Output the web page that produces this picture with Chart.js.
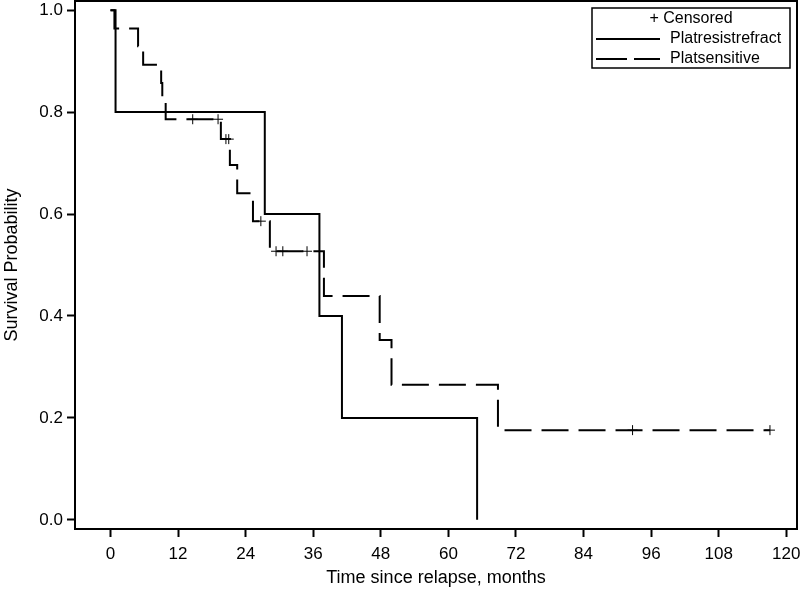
<!DOCTYPE html>
<html>
<head>
<meta charset="utf-8">
<script src="https://cdn.jsdelivr.net/npm/chart.js@4"></script>
<style>
  body { margin: 0; background: #fff; }
</style>
</head>
<body>
<canvas id="kmChart" width="800" height="595"></canvas>
<script>
// Platresistrefract: event times (months) and survival after each event
const resistTimes = [0, 0.9, 27.4, 37.1, 41.1, 65.1];
const resistSurv = [1.0, 0.8, 0.6, 0.4, 0.2, 0.0];

// Platsensitive
const sensTimes = [0, 0.7, 4.9, 5.8, 9.0, 9.2, 9.8, 19.6, 21.2, 22.5, 25.3, 28.3, 37.9, 47.8, 49.9, 68.8, 117.1];
const sensSurv = [1.0, 0.964, 0.929, 0.893, 0.857, 0.821, 0.786, 0.747, 0.696, 0.641, 0.586, 0.527, 0.439, 0.353, 0.265, 0.176, 0.176];

// censored observations (Platsensitive)
const censTimes = [14.6, 19.1, 20.5, 21.0, 26.7, 29.4, 30.6, 34.9, 92.7, 117.1];
const censSurv = [0.786, 0.786, 0.747, 0.747, 0.586, 0.527, 0.527, 0.527, 0.176, 0.176];

const xTicks = [0, 12, 24, 36, 48, 60, 72, 84, 96, 108, 120];
const yTicks = [0, 0.2, 0.4, 0.6, 0.8, 1.0];

const legendLabels = ['+ Censored', 'Platresistrefract', 'Platsensitive'];

function toPoints(xs, ys) {
    return xs.map((x, i) => ({ x: x, y: ys[i] }));
}

Chart.defaults.font.family = '"Liberation Sans", Arial, sans-serif';
Chart.defaults.font.size = 17;
Chart.defaults.color = '#000';

// frame around the plot + boxed legend in the top right corner
const framePlugin = {
    id: 'frame',
    afterDraw(chart) {
        const ctx = chart.ctx;
        const a = chart.chartArea;
        ctx.save();
        ctx.strokeStyle = '#000';
        ctx.lineWidth = 2;
        ctx.strokeRect(a.left, a.top, a.right - a.left, a.bottom - a.top);

        // legend box
        const bx = a.right - 205, by = a.top + 7, bw = 198, bh = 60;
        ctx.lineWidth = 1.5;
        ctx.strokeRect(bx, by, bw, bh);
        ctx.fillStyle = '#000';
        ctx.font = '16px "Liberation Sans", Arial, sans-serif';
        ctx.textBaseline = 'middle';
        ctx.textAlign = 'center';
        ctx.fillText(legendLabels[0], bx + bw / 2, by + 11);
        ctx.textAlign = 'left';
        ctx.fillText(legendLabels[1], bx + 78, by + 31);
        ctx.fillText(legendLabels[2], bx + 78, by + 51);

        ctx.lineWidth = 2;
        ctx.beginPath();
        ctx.moveTo(bx + 4, by + 31);
        ctx.lineTo(bx + 68, by + 31);
        ctx.stroke();
        ctx.setLineDash([31, 7]);
        ctx.beginPath();
        ctx.moveTo(bx + 4, by + 51);
        ctx.lineTo(bx + 68, by + 51);
        ctx.stroke();
        ctx.restore();
    }
};

const ctx = document.getElementById('kmChart').getContext('2d');
new Chart(ctx, {
    type: 'line',
    data: {
        datasets: [{
            label: 'Platresistrefract',
            data: toPoints(resistTimes, resistSurv),
            borderColor: '#000',
            borderWidth: 2,
            stepped: true,
            pointRadius: 0,
            fill: false
        }, {
            label: 'Platsensitive',
            data: toPoints(sensTimes, sensSurv),
            borderColor: '#000',
            borderWidth: 2,
            borderDash: [27, 10],
            stepped: true,
            pointRadius: 0,
            fill: false
        }, {
            label: 'Censored',
            type: 'scatter',
            data: toPoints(censTimes, censSurv),
            showLine: false,
            pointStyle: 'cross',
            pointRadius: 5,
            borderColor: '#000',
            borderWidth: 1
        }]
    },
    options: {
        responsive: false,
        animation: false,
        layout: { autoPadding: false, padding: { top: 1, right: 3, left: 0, bottom: 0 } },
        plugins: {
            legend: { display: false },
            tooltip: { enabled: false }
        },
        scales: {
            x: {
                type: 'linear',
                min: -6.3,
                max: 121.9,
                afterBuildTicks: s => { s.ticks = xTicks.map(v => ({ value: v })); },
                afterFit: s => { s.height = 66; s.paddingLeft = 0; s.paddingRight = 0; },
                border: { display: false },
                grid: { drawOnChartArea: false, drawTicks: true, tickLength: 8, tickWidth: 2, tickColor: '#000' },
                ticks: { padding: 7, maxRotation: 0 },
                title: {
                    display: true,
                    text: 'Time since relapse, months',
                    font: { size: 18 },
                    padding: { top: 0, bottom: 6 }
                }
            },
            y: {
                type: 'linear',
                min: -0.018,
                max: 1.018,
                afterBuildTicks: s => { s.ticks = yTicks.map(v => ({ value: v })); },
                afterFit: s => { s.width = 75; s.paddingTop = 0; s.paddingBottom = 0; },
                border: { display: false },
                grid: { drawOnChartArea: false, drawTicks: true, tickLength: 8, tickWidth: 2, tickColor: '#000' },
                ticks: { padding: 4, callback: v => v.toFixed(1) },
                title: {
                    display: true,
                    text: 'Survival Probability',
                    font: { size: 18 },
                    padding: { top: 1, bottom: 0 }
                }
            }
        }
    },
    plugins: [framePlugin]
});
</script>
</body>
</html>
